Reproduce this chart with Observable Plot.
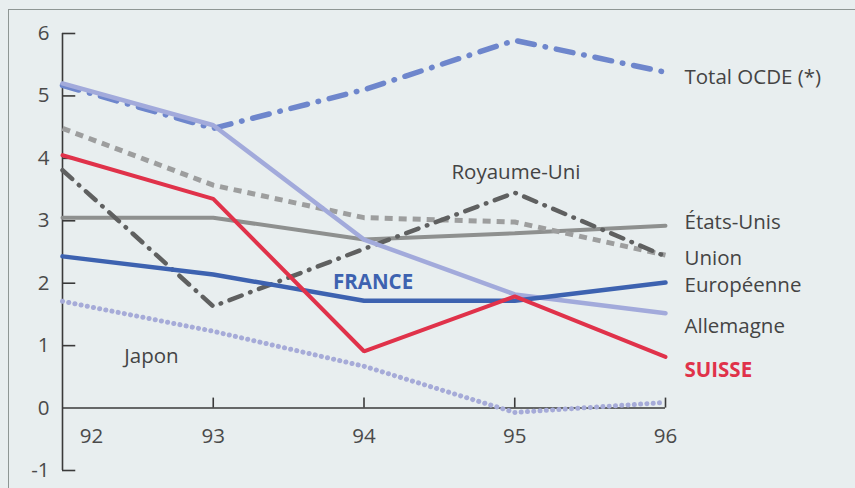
<!DOCTYPE html>
<html><head><meta charset="utf-8">
<script src="https://cdn.jsdelivr.net/npm/d3@7"></script>
<script src="https://cdn.jsdelivr.net/npm/@observablehq/plot@0.6"></script>
<style>
html,body{margin:0;padding:0;background:#e8eeef;width:855px;height:488px;overflow:hidden;}
#frame{position:absolute;left:8px;top:9px;width:900px;height:600px;border-top:1.5px solid #8e9694;border-left:1.5px solid #8e9694;}
#chart{position:absolute;left:0;top:0;}
svg{font-family:"Open Sans",sans-serif;}
</style></head>
<body>
<div id="frame"></div>
<div id="chart"></div>
<script>
const years = [92, 93, 94, 95, 96];
const totalOCDE  = [5.17, 4.48, 5.10, 5.89, 5.38];
const allemagne  = [5.20, 4.53, 2.70, 1.82, 1.52];
const unionEur   = [4.48, 3.57, 3.05, 2.98, 2.45];
const royaumeUni = [3.81, 1.63, 2.55, 3.45, 2.43];
const etatsUnis  = [3.05, 3.05, 2.70, 2.80, 2.92];
const france     = [2.43, 2.14, 1.72, 1.72, 2.01];
const suisse     = [4.05, 3.35, 0.91, 1.79, 0.82];
const japon      = [1.71, 1.23, 0.67, -0.07, 0.09];

const yTicks = [-1, 0, 1, 2, 3, 4, 5, 6];
const xTickLabels = ["92", "93", "94", "95", "96"];

const labels = [
  {text: "Total OCDE (*)", x: 96, y: 5.3, color: "#444444", bold: false, anchor: "start", dx: 19},
  {text: "Royaume-Uni", x: 94.58, y: 3.78, color: "#444444", bold: false, anchor: "start", dx: 0},
  {text: "États-Unis", x: 96, y: 2.98, color: "#444444", bold: false, anchor: "start", dx: 19},
  {text: "Union", x: 96, y: 2.4, color: "#444444", bold: false, anchor: "start", dx: 19},
  {text: "Européenne", x: 96, y: 1.97, color: "#444444", bold: false, anchor: "start", dx: 19},
  {text: "Allemagne", x: 96, y: 1.3, color: "#444444", bold: false, anchor: "start", dx: 19},
  {text: "SUISSE", x: 96, y: 0.6, color: "#e0324a", bold: true, anchor: "start", dx: 19},
  {text: "FRANCE", x: 94.06, y: 2.01, color: "#3d62b0", bold: true, anchor: "middle", dx: 0},
  {text: "Japon", x: 92.59, y: 0.83, color: "#444444", bold: false, anchor: "middle", dx: 0}
];

const series = [
  {vals: etatsUnis, stroke: "#8e908f", width: 4, dash: null, cap: "round"},
  {vals: unionEur, stroke: "#9d9e9e", width: 5, dash: "8,6", cap: "butt"},
  {vals: royaumeUni, stroke: "#5f6060", width: 4.5, dash: "13,9,0.5,9", cap: "round"},
  {vals: japon, stroke: "#a6abd8", width: 5, dash: "0.1,6.2", cap: "round"},
  {vals: totalOCDE, stroke: "#6e86cc", width: 5.5, dash: "17,11,0.5,11", cap: "round"},
  {vals: allemagne, stroke: "#a2aadb", width: 4.5, dash: null, cap: "round"},
  {vals: france, stroke: "#3d62b0", width: 4.5, dash: null, cap: "round"},
  {vals: suisse, stroke: "#e0324a", width: 4, dash: null, cap: "round"}
];

const lineMarks = series.map(s => Plot.line(years.map((yr, i) => ({yr, v: s.vals[i]})), {
  x: "yr", y: "v", stroke: s.stroke, strokeWidth: s.width,
  strokeDasharray: s.dash ?? undefined, strokeLinecap: s.cap, strokeLinejoin: "miter"
}));

const xNum = xTickLabels.map(Number);
const FS = 20.5;

const groups = d3.groups(labels, d => `${d.dx}|${d.anchor}|${d.bold}`);
const labelMarks = groups.map(([k, arr]) => Plot.text(arr, {
  x: "x", y: "y", text: "text", fill: "color", textAnchor: arr[0].anchor, dx: arr[0].dx,
  fontSize: FS, fontWeight: arr[0].bold ? 700 : 400
}));

const chart = Plot.plot({
  width: 855, height: 488,
  marginLeft: 62, marginRight: 190, marginTop: 33, marginBottom: 18,
  x: {domain: [92, 96], axis: null},
  y: {domain: [-1, 6], axis: null},
  style: {background: "transparent", fontFamily: "Open Sans, sans-serif", overflow: "visible"},
  marks: [
    Plot.ruleX([92], {y1: -1, y2: 6, stroke: "#3a3a3a", strokeWidth: 1.6}),
    Plot.ruleY(yTicks.filter(d => d !== 0), {y: d => d, x1: 92, x2: 92.088, stroke: "#3a3a3a", strokeWidth: 1.6}),
    Plot.text(yTicks, {x: 92, y: d => d, text: d => String(d), dx: -13, textAnchor: "end", fontSize: FS, fill: "#4a4a4a"}),
    Plot.ruleY([0], {x1: 92, x2: 96, stroke: "#3a3a3a", strokeWidth: 1.6}),
    Plot.ruleX(xNum.filter(d => d !== 92), {x: d => d, y1: 0, y2: 0.16, stroke: "#3a3a3a", strokeWidth: 1.6}),
    Plot.text(xTickLabels.slice(1), {x: d => Number(d), y: 0, text: d => d, dy: 28, fontSize: FS, fill: "#4a4a4a"}),
    Plot.text(xTickLabels.slice(0, 1), {x: d => Number(d), y: 0, text: d => d, dy: 28, dx: 29, fontSize: FS, fill: "#4a4a4a"}),
    ...lineMarks,
    ...labelMarks
  ]
});
document.getElementById("chart").appendChild(chart);
</script>
</body></html>
